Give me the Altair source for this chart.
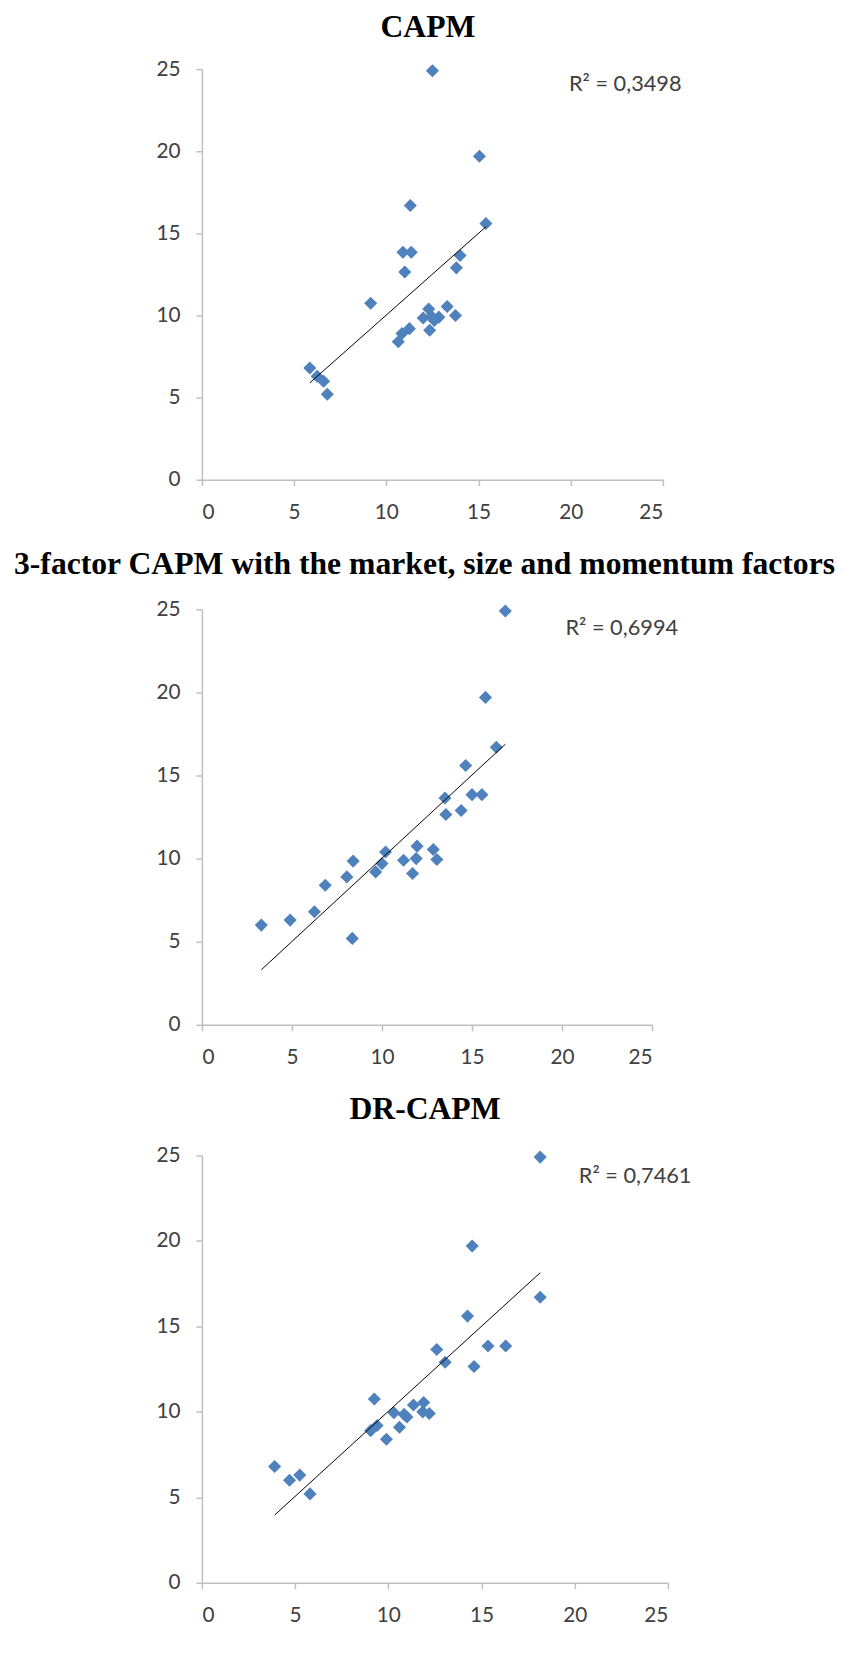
import altair as alt
import pandas as pd

# Actual (y) values shared by all three panels
actual = [24.9, 19.7, 16.7, 15.6, 13.85, 13.85, 13.65, 12.9, 12.65, 10.75, 10.55, 10.4,
          10.0, 9.95, 9.9, 9.85, 9.7, 9.2, 9.1, 8.9, 8.4, 6.8, 6.3, 6.0, 5.2]

# Predicted (x) values per model
capm_x = [12.5, 15.05, 11.3, 15.4, 10.9, 11.35, 14.0, 13.8, 11.0, 9.15, 13.3, 12.3,
          13.75, 12.45, 12.85, 12.0, 12.6, 11.25, 12.35, 10.85, 10.65, 5.85, 6.25, 6.6, 6.8]
three_x = [16.85, 15.75, 16.35, 14.65, 15.0, 15.55, 13.5, 14.4, 13.55, 11.95, 12.85, 10.2,
           11.9, 13.05, 11.2, 8.4, 10.0, 9.65, 11.7, 8.05, 6.85, 6.25, 4.9, 3.3, 8.35]
dr_x = [18.15, 14.5, 18.15, 14.25, 15.35, 16.3, 12.6, 13.05, 14.6, 9.25, 11.9, 11.35,
        11.85, 10.3, 12.2, 10.85, 11.0, 9.4, 10.6, 9.05, 9.9, 3.9, 5.25, 4.7, 5.8]

titles = ["CAPM", "3-factor CAPM with the market, size and momentum factors", "DR-CAPM"]
r2_labels = ["R² = 0,3498", "R² = 0,6994", "R² = 0,7461"]
axis_ticks = [0, 5, 10, 15, 20, 25]

LABEL_FONT = "Lato"
TITLE_FONT = "Liberation Serif"


def panel(xs, title, r2, width, height, title_dx, title_dy, r2_x, r2_y):
    df = pd.DataFrame({"x": xs, "y": actual})
    xenc = alt.X("x:Q", scale=alt.Scale(domain=[0, 25], nice=False, zero=True),
                 axis=alt.Axis(title=None, values=axis_ticks, grid=False))
    yenc = alt.Y("y:Q", scale=alt.Scale(domain=[0, 25], nice=False, zero=True),
                 axis=alt.Axis(title=None, values=axis_ticks, grid=False))
    pts = alt.Chart(df).mark_point(shape="diamond", filled=True, size=175,
                                   color="#4F81BD", opacity=1).encode(x=xenc, y=yenc)
    trend = alt.Chart(df).transform_regression("x", "y").mark_line(
        color="black", strokeWidth=1).encode(x=xenc, y=yenc)
    ttl = alt.Chart(pd.DataFrame({"t": [title]})).mark_text(
        font=TITLE_FONT, fontSize=32, fontWeight="bold", color="black",
        align="center", baseline="alphabetic").encode(
        text="t:N", x=alt.value(title_dx), y=alt.value(title_dy))
    r2t = alt.Chart(pd.DataFrame({"t": [r2]})).mark_text(
        font=LABEL_FONT, fontSize=22, color="#404040",
        align="left", baseline="middle").encode(
        text="t:N", x=alt.value(r2_x), y=alt.value(r2_y))
    # invisible anchor fixing the common left edge of the layout
    anchor = alt.Chart(pd.DataFrame({"t": [""]})).mark_point(
        opacity=0, size=1).encode(x=alt.value(-195), y=alt.value(0))
    return alt.layer(pts, trend, ttl, r2t, anchor).properties(width=width, height=height)


p1 = panel(capm_x, titles[0], r2_labels[0], 466, 415, 228.5, -32, 371, 15.5)
p2 = panel(three_x, titles[1], r2_labels[1], 455, 420, 225, -36, 367.5, 19)
p3 = panel(dr_x, titles[2], r2_labels[2], 471, 432, 225.5, -37, 381, 21)

chart = alt.vconcat(p1, p2, p3, spacing=26).properties(
    padding={"left": 0, "top": -5, "right": 5, "bottom": 5}
).configure_view(stroke=None).configure_axis(
    labelFont=LABEL_FONT, labelFontSize=21, labelColor="#404040",
    domainColor="#BFBFBF", domainWidth=1.5, tickColor="#BFBFBF", tickWidth=1.5,
    tickSize=6, labelPadding=16
)

chart.save("out.html", embed_options={"renderer": "svg", "actions": False})
